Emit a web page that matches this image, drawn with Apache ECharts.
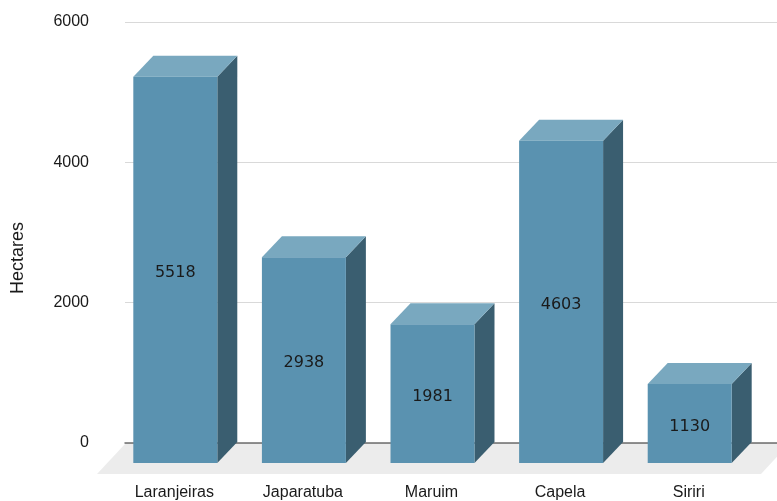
<!DOCTYPE html>
<html>
<head>
<meta charset="utf-8">
<title>Hectares por município</title>
<script src="https://cdn.jsdelivr.net/npm/echarts@6/dist/echarts.min.js"></script>
<style>
  html, body { margin: 0; padding: 0; background: #ffffff; }
  #chart { width: 777px; height: 501px; }
</style>
</head>
<body>
<div id="chart"></div>
<script>
// Municipalities and planted area in hectares
const categories = ['Laranjeiras', 'Japaratuba', 'Maruim', 'Capela', 'Siriri'];
const hectares = [5518, 2938, 1981, 4603, 1130];

// Value axis
const yMin = 0;
const yMax = 6000;
const yStep = 2000;
const yTitle = 'Hectares';

// Block style
const FRONT = '#5a92b0';
const TOP = '#79a8bf';
const SIDE = '#3a5e70';
const DEPTH_X = 20;   // front face sits left of the back wall
const DEPTH_Y = 21;   // and below it
const BAR_RATIO = 0.653;

const chart = echarts.init(document.getElementById('chart'), null, { renderer: 'canvas' });

function renderBlock(params, api) {
  const idx = api.value(0);
  const val = api.value(1);
  const top = api.coord([idx, val]);
  const base = api.coord([idx, 0]);
  const w = api.size([1, 0])[0] * BAR_RATIO;
  const bx0 = top[0] - w / 2;
  const bx1 = top[0] + w / 2;
  const yT = top[1];
  const yB = base[1];
  const fx0 = bx0 - DEPTH_X;
  const fx1 = bx1 - DEPTH_X;
  const fyT = yT + DEPTH_Y;
  const fyB = yB + DEPTH_Y;
  return {
    type: 'group',
    children: [
      {
        type: 'polygon',
        shape: { points: [[fx1, fyT], [bx1, yT], [bx1, yB], [fx1, fyB]] },
        style: { fill: SIDE }
      },
      {
        type: 'polygon',
        shape: { points: [[fx0, fyT], [bx0, yT], [bx1, yT], [fx1, fyT]] },
        style: { fill: TOP }
      },
      {
        type: 'rect',
        shape: { x: fx0, y: fyT, width: fx1 - fx0, height: fyB - fyT },
        style: { fill: FRONT }
      },
      {
        type: 'text',
        x: (fx0 + fx1) / 2,
        y: (fyT + fyB) / 2 + 3,
        style: {
          text: String(val),
          align: 'center',
          verticalAlign: 'middle',
          fontFamily: '"DejaVu Sans", sans-serif',
          fontSize: 16,
          fill: '#1a1a1a'
        }
      }
    ]
  };
}

function renderFloor(params, api) {
  const cs = params.coordSys;
  const yb = cs.y + cs.height + 1;
  const depth = 30;
  const shift = 28;
  const xl = cs.x;
  const xr = cs.x + cs.width + 12;
  return {
    type: 'polygon',
    shape: { points: [[xl, yb], [xr, yb], [xr - shift, yb + depth], [xl - shift, yb + depth]] },
    style: { fill: '#ececec' }
  };
}

const option = {
  animation: false,
  backgroundColor: '#ffffff',
  grid: [
    { left: 131, right: 3, top: 22, bottom: 58 },
    { left: 125, right: 0, top: 22, bottom: 58 }
  ],
  xAxis: [
    {
      type: 'category',
      gridIndex: 0,
      data: categories,
      axisLine: { show: false },
      axisTick: { show: false },
      splitLine: { show: false },
      axisLabel: {
        margin: 43,
        padding: [0, 42, 0, 0],
        color: '#1a1a1a',
        fontFamily: '"Liberation Sans", Arial, sans-serif',
        fontSize: 16,
        lineHeight: 16
      }
    },
    {
      type: 'value',
      gridIndex: 1,
      min: 0,
      max: 1,
      axisLine: { show: true, lineStyle: { color: '#6e6e6e', width: 1.5 } },
      axisTick: { show: false },
      axisLabel: { show: false },
      splitLine: { show: false }
    }
  ],
  yAxis: [
    {
      type: 'value',
      gridIndex: 0,
      min: yMin,
      max: yMax,
      interval: yStep,
      show: false
    },
    {
      type: 'value',
      gridIndex: 1,
      min: yMin,
      max: yMax,
      interval: yStep,
      axisLine: { show: false },
      axisTick: { show: false },
      axisLabel: {
        margin: 36,
        color: '#1a1a1a',
        fontFamily: '"Liberation Sans", Arial, sans-serif',
        fontSize: 16,
        formatter: (v) => String(v)
      },
      splitLine: { show: true, lineStyle: { color: '#d9d9d9', width: 1 } }
    }
  ],
  graphic: [
    {
      type: 'text',
      x: 18,
      y: 258,
      rotation: Math.PI / 2,
      style: {
        text: yTitle,
        align: 'center',
        verticalAlign: 'middle',
        fontFamily: '"Liberation Sans", Arial, sans-serif',
        fontSize: 18,
        fill: '#1a1a1a'
      }
    }
  ],
  series: [
    {
      type: 'custom',
      name: 'floor',
      xAxisIndex: 1,
      yAxisIndex: 1,
      z: 1,
      silent: true,
      data: [[0, 0]],
      renderItem: renderFloor
    },
    {
      type: 'custom',
      name: yTitle,
      xAxisIndex: 0,
      yAxisIndex: 0,
      z: 3,
      encode: { x: 0, y: 1 },
      data: hectares.map((v, i) => [i, v]),
      renderItem: renderBlock
    }
  ]
};

chart.setOption(option);
</script>
</body>
</html>
